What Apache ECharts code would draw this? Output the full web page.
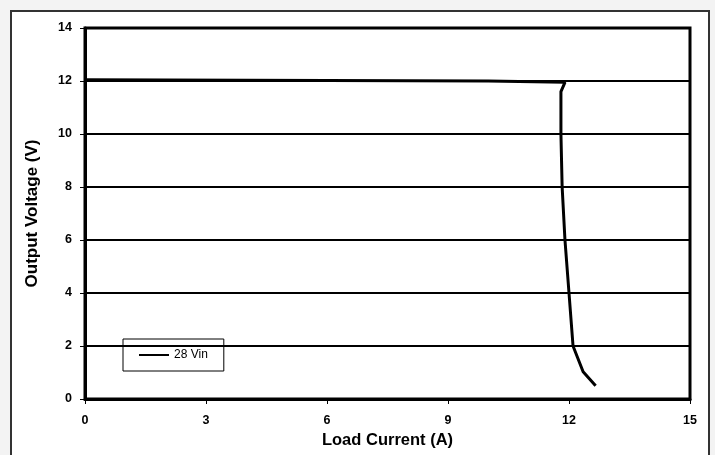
<!DOCTYPE html>
<html>
<head>
<meta charset="utf-8">
<script src="https://cdn.jsdelivr.net/npm/echarts@6/dist/echarts.min.js"></script>
<style>
html,body{margin:0;padding:0;background:#f3f3f3;}
#frame{position:absolute;left:10px;top:10px;width:696px;height:460px;border:2px solid #333;background:#fff;}
#chart{position:absolute;left:0;top:0;width:715px;height:455px;}
</style>
</head>
<body>
<div id="frame"></div>
<div id="chart"></div>
<script>
var seriesName = '28 Vin';
var loadCurrent = [0, 10, 11.9, 11.8, 11.8, 11.83, 11.9, 12.0, 12.1, 12.35, 12.66];
var outputVoltage = [12.05, 12.0, 11.95, 11.6, 10, 8, 6, 4, 2, 1.03, 0.5];
var xTicks = {min: 0, max: 15, interval: 3};
var yTicks = {min: 0, max: 14, interval: 2};

var pts = loadCurrent.map(function (x, i) { return [x, outputVoltage[i]]; });
var font = 'Liberation Sans, Arial, sans-serif';
var chart = echarts.init(document.getElementById('chart'));
chart.setOption({
  animation: false,
  backgroundColor: 'transparent',
  grid: {left: 85, right: 25, top: 28, bottom: 56, show: true, borderColor: '#000', borderWidth: 3, backgroundColor: 'transparent'},
  legend: {
    left: 123, top: 339, orient: 'vertical',
    padding: [10, 16, 10, 16],
    borderColor: '#000', borderWidth: 1, borderRadius: 0,
    itemWidth: 30, itemHeight: 14, itemGap: 0,
    textStyle: {fontFamily: font, fontSize: 12, color: '#000'},
    data: [{name: seriesName, icon: 'path://M0,6L30,6L30,8L0,8Z'}]
  },
  xAxis: {
    type: 'value', min: xTicks.min, max: xTicks.max, interval: xTicks.interval,
    name: 'Load Current (A)', nameLocation: 'middle', nameGap: 27,
    nameTextStyle: {fontFamily: font, fontSize: 16.5, fontWeight: 'bold', color: '#000'},
    axisLine: {show: true, lineStyle: {color: '#000', width: 3}},
    axisTick: {show: true, length: 5, lineStyle: {color: '#000', width: 1}},
    axisLabel: {fontFamily: font, fontSize: 12.5, fontWeight: 'bold', color: '#000', margin: 15},
    splitLine: {show: false}
  },
  yAxis: {
    type: 'value', min: yTicks.min, max: yTicks.max, interval: yTicks.interval,
    name: 'Output Voltage (V)', nameLocation: 'middle', nameGap: 44,
    nameTextStyle: {fontFamily: font, fontSize: 17, fontWeight: 'bold', color: '#000'},
    axisLine: {show: true, lineStyle: {color: '#000', width: 3}},
    axisTick: {show: true, length: 5, lineStyle: {color: '#000', width: 1}},
    axisLabel: {fontFamily: font, fontSize: 12.5, fontWeight: 'bold', color: '#000', margin: 13},
    splitLine: {show: true, lineStyle: {color: '#000', width: 2}}
  },
  series: [{
    name: seriesName, type: 'line', data: pts,
    showSymbol: false, symbol: 'none',
    lineStyle: {color: '#000', width: 3},
    itemStyle: {color: '#000'}
  }]
});
</script>
</body>
</html>
